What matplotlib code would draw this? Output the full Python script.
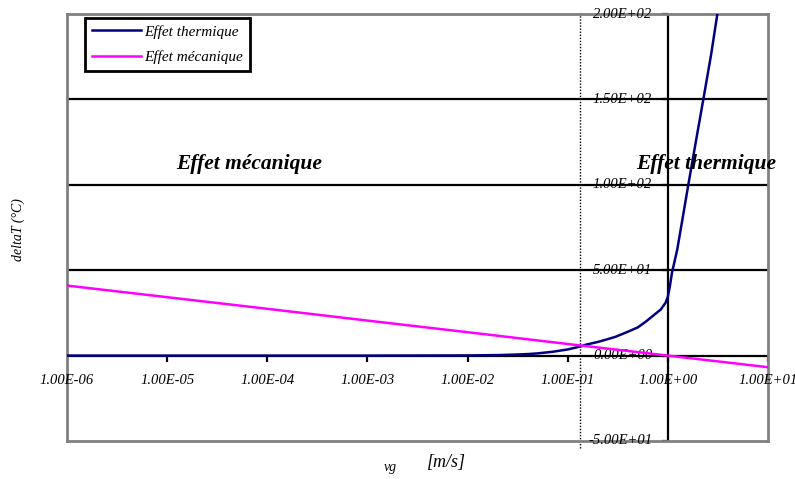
import matplotlib
matplotlib.use("Agg")
import matplotlib.pyplot as plt
from matplotlib.markers import TICKDOWN, TICKLEFT

# values
decades = [1e-6, 1e-5, 1e-4, 1e-3, 1e-2, 1e-1, 1e0, 1e1]
x_labels = ['1.00E-06', '1.00E-05', '1.00E-04', '1.00E-03',
            '1.00E-02', '1.00E-01', '1.00E+00', '1.00E+01']
y_values = [-50, 0, 50, 100, 150, 200]
y_labels = ['-5.00E+01', '0.00E+00', '5.00E+01', '1.00E+02', '1.50E+02', '2.00E+02']

# mechanical effect
mech_vg = [1e-6, 1e-5, 1e-4, 1e-3, 1e-2, 1e-1, 1e0, 1e1]
mech_dt = [41.0, 34.2, 27.4, 20.5, 13.7, 6.8, 0.0, -6.8]

# thermal effect
therm_vg = [1e-6, 1e-5, 1e-4, 1e-3, 1e-2, 0.02, 0.03, 0.04, 0.05, 0.07, 0.1, 0.133,
            0.15, 0.2, 0.25, 0.3, 0.4, 0.5, 0.6, 0.7, 0.85, 0.95, 1.0, 1.05, 1.1,
            1.24, 1.4, 1.6, 1.9, 2.26, 2.7, 3.12]
therm_dt = [0, 0, 0, 0, 0.1, 0.3, 0.6, 0.9, 1.3, 2.2, 3.6, 5.3,
            6.3, 8.0, 9.6, 11.0, 14.0, 16.5, 19.8, 23.0, 27.0, 31.0, 34.5, 41.0, 48.6,
            62.0, 80.0, 100.0, 125.0, 150.0, 176.0, 200.0]

separation_vg = 0.133

plt.rcParams['font.family'] = ['Liberation Serif', 'DejaVu Serif']
plt.rcParams['font.style'] = 'italic'

fig = plt.figure(figsize=(7.95, 4.79), dpi=100)
ax = fig.add_axes([67 / 795, 38 / 479, 701 / 795, 427 / 479])
ax.set_xscale('log')
ax.set_xlim(1e-6, 1e1)
ax.set_ylim(-50, 200)
ax.set_xticks([])
ax.set_yticks([])
ax.minorticks_off()
for s in ax.spines.values():
    s.set_color('#808080')
    s.set_linewidth(2)

# horizontal grid
for v in [50, 100, 150]:
    ax.axhline(v, color='black', lw=1.6, zorder=1)

# x axis crossing at 0, y axis crossing at 1
ax.plot([1e-6, 1e1], [0, 0], color='black', lw=1.6, zorder=2)
ax.plot(decades, [0] * len(decades), linestyle='none', marker=TICKDOWN,
        markersize=4, markeredgewidth=1.6, color='black', zorder=2)
ax.plot([1, 1], [-50, 200], color='black', lw=1.6, zorder=2)
ax.plot([1] * len(y_values), y_values, linestyle='none', marker=TICKLEFT,
        markersize=4, markeredgewidth=1.6, color='black', zorder=2, clip_on=False)

# separation line
ax.plot([separation_vg, separation_vg], [-54, 202], color='black', lw=1,
        linestyle=(0, (1, 1.2)), zorder=2, clip_on=False)

for d, lab in zip(decades, x_labels):
    ax.text(d, -14.6, lab, ha='center', va='center', fontsize=10.5, zorder=3)
for v, lab in zip(y_values, y_labels):
    ax.text(0.698, v, lab, ha='right', va='center', fontsize=10.5, zorder=3)

ax.plot(therm_vg, therm_dt, color='#000080', lw=1.8, label='Effet thermique', zorder=5)
ax.plot(mech_vg, mech_dt, color='#FF00FF', lw=1.8, label='Effet mécanique', zorder=5)

ax.text(10 ** -4.18, 112, 'Effet mécanique', fontsize=15.5, fontweight='bold',
        ha='center', va='center', zorder=6)
ax.text(2.42, 112, 'Effet thermique', fontsize=15.5, fontweight='bold',
        ha='center', va='center', zorder=6, clip_on=False)

ax.text(-0.069, 0.494, 'deltaT (°C)', transform=ax.transAxes, rotation=90,
        ha='center', va='center', fontsize=10)
fig.text(390 / 795, 1 - 468 / 479, 'vg', ha='center', va='center', fontsize=10)
fig.text(446 / 795, 1 - 462 / 479, '[m/s]', ha='center', va='center', fontsize=13)

leg = ax.legend(loc='upper left', bbox_to_anchor=(0.0257, 0.9906), fontsize=11,
                handlelength=3.2, labelspacing=0.75, fancybox=False, framealpha=1,
                edgecolor='black', borderaxespad=0, handletextpad=0.25,
                borderpad=0.45)
leg.get_frame().set_linewidth(2)

fig.savefig('out.png', dpi=100)
